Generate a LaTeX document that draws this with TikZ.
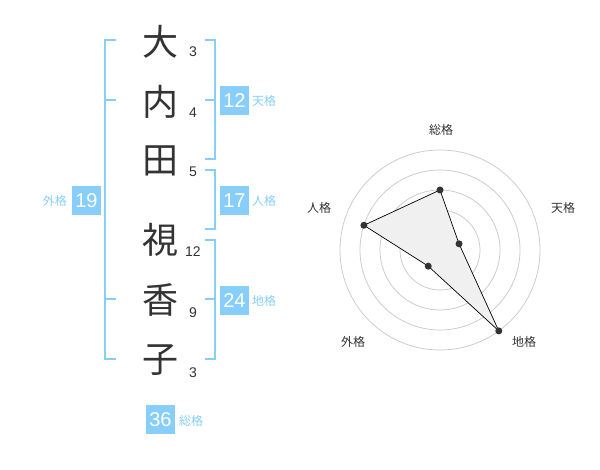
\documentclass[tikz,border=0pt]{standalone}
\usepackage{fontspec}
\setmainfont{Liberation Sans}
\newfontfamily\jp{Noto Sans CJK JP}
\definecolor{bl}{RGB}{135,206,250}
\definecolor{dk}{RGB}{51,51,51}
\definecolor{gr}{RGB}{204,204,204}
\begin{document}
\begin{tikzpicture}[x=1pt,y=-1pt,
  kanji/.style={font=\jp\fontsize{36}{36}\selectfont,text=dk,inner sep=0},
  strk/.style={font=\fontsize{14}{14}\selectfont,text=dk,inner sep=0},
  numbox/.style={fill=bl,text=white,font=\fontsize{20}{20}\selectfont,minimum width=29,minimum height=29,inner sep=0},
  lab/.style={font=\jp\fontsize{12}{12}\selectfont,text=bl,inner sep=0},
  brk/.style={draw=bl,line width=2pt},
  rlab/.style={font=\jp\fontsize{12}{12}\selectfont,text=dk,inner sep=0},
  ring/.style={draw=gr,line width=0.8pt},
  dot/.style={circle,fill=dk,inner sep=0,minimum size=7}]
\useasboundingbox (0,0) rectangle (600,470);
% characters
\node[kanji] (c1) at (160,42) {大};
\node[kanji] (c2) at (160,102) {内};
\node[kanji] (c3) at (160,161) {田};
\node[kanji] (c4) at (160,240) {視};
\node[kanji] (c5) at (160,300) {香};
\node[kanji] (c6) at (160,360) {子};
\node[strk] (s1) at (193,52) {3};
\node[strk] (s2) at (193,113) {4};
\node[strk] (s3) at (193,172) {5};
\node[strk] (s4) at (193,252) {12};
\node[strk] (s5) at (193,313) {9};
\node[strk] (s6) at (193,373) {3};
% brackets
\coordinate (lt) at (116,40); \coordinate (lb) at (116,359);
\draw[brk] (lt) -- (105,40) -- (105,359) -- (lb);
\coordinate (lm1) at (116,100); \coordinate (lm2) at (116,299);
\draw[brk] (105,100) -- (lm1);
\draw[brk] (105,299) -- (lm2);
\coordinate (t1) at (205,40); \coordinate (t2) at (205,159);
\draw[brk] (t1) -- (215,40) -- (215,159) -- (t2);
\draw[brk] (205,100) -- (215,100);
\coordinate (j1) at (205,170); \coordinate (j2) at (205,229);
\draw[brk] (j1) -- (215,170) -- (215,229) -- (j2);
\coordinate (k1) at (205,240); \coordinate (k2) at (205,359);
\draw[brk] (k1) -- (215,240) -- (215,359) -- (k2);
\draw[brk] (205,299) -- (215,299);
% boxes
\node[numbox] (b12) at (234.5,100.5) {12};
\node[lab,anchor=west] (l12) at (252,101) {天格};
\node[numbox] (b17) at (234.5,200.5) {17};
\node[lab,anchor=west] (l17) at (252,201) {人格};
\node[numbox] (b24) at (234.5,300.5) {24};
\node[lab,anchor=west] (l24) at (252,301) {地格};
\node[numbox] (b19) at (86.5,200.5) {19};
\node[lab,anchor=east] (l19) at (67,201) {外格};
\node[numbox] (b36) at (160.5,419.5) {36};
\node[lab,anchor=west] (l36) at (179,421) {総格};
% radar
\coordinate (ctr) at (440,250);
\foreach \r in {20,40,60,80,100} \draw[ring] (ctr) circle (\r);
\fill[gr] (ctr) circle (3.5);
\path (ctr) ++(0,-60) coordinate (pa)
      (ctr) ++({20*cos(18)},{-20*sin(18)}) coordinate (pb)
      (ctr) ++({100*cos(-54)},{-100*sin(-54)}) coordinate (pc)
      (ctr) ++({20*cos(234)},{-20*sin(234)}) coordinate (pd)
      (ctr) ++({80*cos(162)},{-80*sin(162)}) coordinate (pe);
\filldraw[fill=black!6,draw=black,line width=0.7pt] (pa) -- (pb) -- (pc) -- (pd) -- (pe) -- cycle;
\foreach \p in {pa,pb,pc,pd,pe} \node[dot] at (\p) {};
\node[rlab] (r1) at (441,130) {総格};
\node[rlab] (r2) at (563,208) {天格};
\node[rlab] (r3) at (524,342) {地格};
\node[rlab] (r4) at (353,342) {外格};
\node[rlab] (r5) at (319,208) {人格};
\end{tikzpicture}
\end{document}
